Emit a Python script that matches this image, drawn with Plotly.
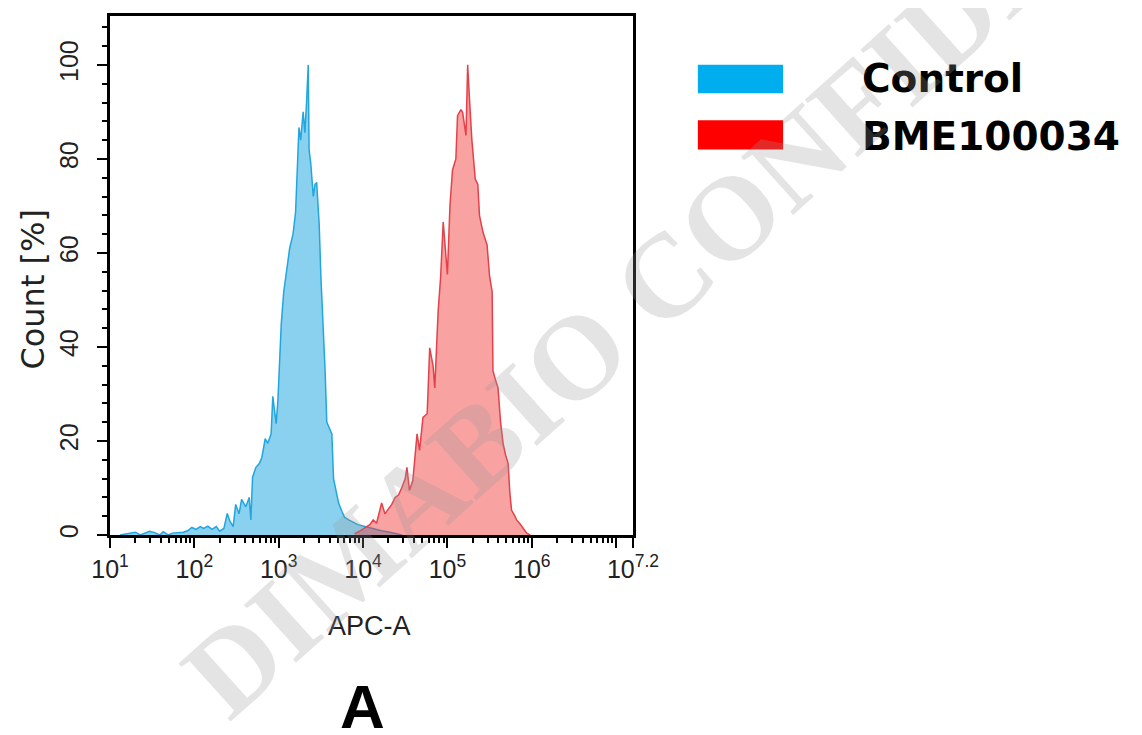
import plotly.graph_objects as go

# ---------------- data ----------------
# x positions are log10(APC-A); y is Count [%]
control_log10 = [1.12, 1.30, 1.36, 1.47, 1.53, 1.59, 1.63, 1.69, 1.74, 1.81, 1.87, 1.92, 1.97, 2.02,
                 2.07, 2.11, 2.16, 2.21, 2.26, 2.30, 2.35, 2.39, 2.42, 2.46, 2.49, 2.53, 2.56, 2.61,
                 2.65, 2.67, 2.69, 2.73, 2.77, 2.80, 2.84, 2.87, 2.91, 2.93, 2.97, 2.99, 3.03, 3.06,
                 3.10, 3.13, 3.17, 3.20, 3.24, 3.26, 3.29, 3.31, 3.33, 3.35, 3.36, 3.38, 3.41, 3.43,
                 3.45, 3.48, 3.50, 3.52, 3.55, 3.57, 3.61, 3.63, 3.65, 3.68, 3.71, 3.75, 3.78, 3.83,
                 3.88, 3.94, 4.00, 4.06, 4.14, 4.22, 4.32, 4.40, 4.46]
control_count = [0, 0.6, 0, 0.8, 0.5, 0, 0.7, 0, 0.4, 0.5, 0.6, 0.9, 1.6, 1.2,
                 1.8, 1.4, 1.9, 1.2, 1.8, 0.8, 1.4, 4.6, 3.0, 1.8, 6.5, 4.5, 7.6, 6.0,
                 8.0, 3.2, 12.3, 14.4, 15.2, 16.5, 20.5, 19.5, 21.5, 29.5, 23.7, 28.5, 44.8, 51.8,
                 56.7, 61, 64, 68.7, 86.7, 84, 90, 85.6, 92, 100, 82, 79, 72, 74.6,
                 75, 66, 55, 48, 35, 24, 22.5, 21.5, 12, 9.5, 6.8, 5, 3.8, 3.2,
                 2.7, 2.2, 1.9, 1.6, 1.2, 0.9, 0.6, 0.2, 0]

sample_log10 = [3.90, 3.96, 4.02, 4.08, 4.12, 4.16, 4.22, 4.26, 4.29, 4.34, 4.38, 4.42, 4.46, 4.50,
                4.52, 4.55, 4.59, 4.64, 4.67, 4.71, 4.76, 4.79, 4.83, 4.85, 4.89, 4.92, 4.95, 4.98,
                5.00, 5.03, 5.06, 5.10, 5.12, 5.16, 5.18, 5.22, 5.24, 5.27, 5.29, 5.33, 5.36, 5.38,
                5.42, 5.47, 5.50, 5.53, 5.54, 5.57, 5.60, 5.63, 5.66, 5.69, 5.72, 5.74, 5.76, 5.80,
                5.82, 5.86, 5.89, 5.94, 5.98]
sample_count = [0.3, 0.8, 1.5, 2.2, 3.2, 2.5, 6.8, 4.5, 5.3, 6.5, 8, 8.5, 10.1, 12,
                14.4, 9.5, 11.6, 21.5, 18, 25, 25.8, 39.8, 36, 31.3, 47.6, 55, 66.6, 60,
                55.4, 70, 77.6, 80, 89.2, 90.5, 89.9, 85, 100, 90, 84, 75.7, 74.6, 68,
                64.5, 61.7, 55, 51.8, 34.9, 33, 31.3, 24, 19.5, 17, 15.2, 9, 5.3, 4,
                3.2, 2.4, 1.7, 0.4, 0]

series_names = ["Control", "BME100034"]
x_tick_exponents = [1, 2, 3, 4, 5, 6, 7, 7.2]
x_tick_labels = ["10<sup>1</sup>", "10<sup>2</sup>", "10<sup>3</sup>", "10<sup>4</sup>",
                 "10<sup>5</sup>", "10<sup>6</sup>", "", "10<sup>7.2</sup>"]
y_tick_values = [0, 20, 40, 60, 80, 100]

# ---------------- figure ----------------
fig = go.Figure()
fig.add_trace(go.Scatter(
    x=[10 ** v for v in control_log10], y=control_count, name=series_names[0],
    mode="lines", line=dict(color="#22A6DD", width=1.5),
    fill="tozeroy", fillcolor="rgba(41,171,226,0.55)", showlegend=False))
fig.add_trace(go.Scatter(
    x=[10 ** v for v in sample_log10], y=sample_count, name=series_names[1],
    mode="lines", line=dict(color="#E5414A", width=1.5),
    fill="tozeroy", fillcolor="rgba(240,60,60,0.48)", showlegend=False))

tick_font = dict(family="Liberation Sans, Arial, sans-serif", size=25, color="#222")

fig.update_xaxes(
    type="log", range=[1, 7.2],
    tickmode="array", tickvals=[10 ** e for e in x_tick_exponents], ticktext=x_tick_labels,
    ticks="outside", ticklen=10, tickwidth=2, tickcolor="black",
    minor=dict(ticks="outside", ticklen=5, tickwidth=1.5, tickcolor="black", dtick="D1", showgrid=False),
    showline=True, linewidth=2.5, linecolor="black", mirror=True,
    showgrid=False, zeroline=False, tickfont=tick_font)
fig.update_yaxes(
    range=[0, 110.4],
    tickmode="array", tickvals=y_tick_values, tickangle=-90, ticklabelstandoff=9,
    ticks="outside", ticklen=10, tickwidth=2, tickcolor="black",
    minor=dict(ticks="outside", ticklen=5, tickwidth=1.5, tickcolor="black", tick0=0, dtick=4, showgrid=False),
    showline=True, linewidth=2.5, linecolor="black", mirror=True,
    showgrid=False, zeroline=False, tickfont=tick_font)

# legend swatches
legend_colors = ["#00AEEF", "#FF0000"]
swatch_y = [(0.851, 0.906), (0.743, 0.799)]
for c, (y0, y1) in zip(legend_colors, swatch_y):
    fig.add_shape(type="rect", xref="paper", yref="paper", x0=1.124, x1=1.287, y0=y0, y1=y1,
                  fillcolor=c, line=dict(width=0))

label_font = dict(family="DejaVu Sans, sans-serif", size=39, color="black")
fig.add_annotation(text="<b>" + series_names[0] + "</b>", xref="paper", yref="paper",
                   x=1.434, y=0.879, xanchor="left", yanchor="middle", showarrow=False, font=label_font)
fig.add_annotation(text="<b>" + series_names[1] + "</b>", xref="paper", yref="paper",
                   x=1.434, y=0.767, xanchor="left", yanchor="middle", showarrow=False, font=label_font)

# axis titles
fig.add_annotation(text="Count [%]", xref="paper", yref="paper", x=-0.149, y=0.473,
                   xanchor="center", yanchor="middle", textangle=-90, showarrow=False,
                   font=dict(family="DejaVu Sans, sans-serif", size=32, color="#222"))
fig.add_annotation(text="APC-A", xref="paper", yref="paper", x=0.497, y=-0.176,
                   xanchor="center", yanchor="middle", showarrow=False,
                   font=dict(family="Liberation Sans, Arial, sans-serif", size=27, color="#222"))

# panel letter
fig.add_annotation(text="<b>A</b>", xref="paper", yref="paper", x=0.482, y=-0.331,
                   xanchor="center", yanchor="middle", showarrow=False,
                   font=dict(family="Liberation Sans, Arial, sans-serif", size=62, color="black"))

# watermark
fig.add_annotation(text="<b>DIMABIO CONFIDENTIAL</b>", xref="paper", yref="paper",
                   x=1.245, y=0.665, xanchor="center", yanchor="middle",
                   textangle=-42, showarrow=False,
                   font=dict(family="Liberation Serif, Times New Roman, serif", size=119,
                             color="rgba(150,150,150,0.26)"))

# page body adds an 8px margin, so the figure is 8px smaller than the window
fig.update_layout(
    width=1134, height=727,
    margin=dict(l=102, r=509, t=5, b=200),
    paper_bgcolor="white", plot_bgcolor="white",
    showlegend=False)

fig.write_html("out.html")
